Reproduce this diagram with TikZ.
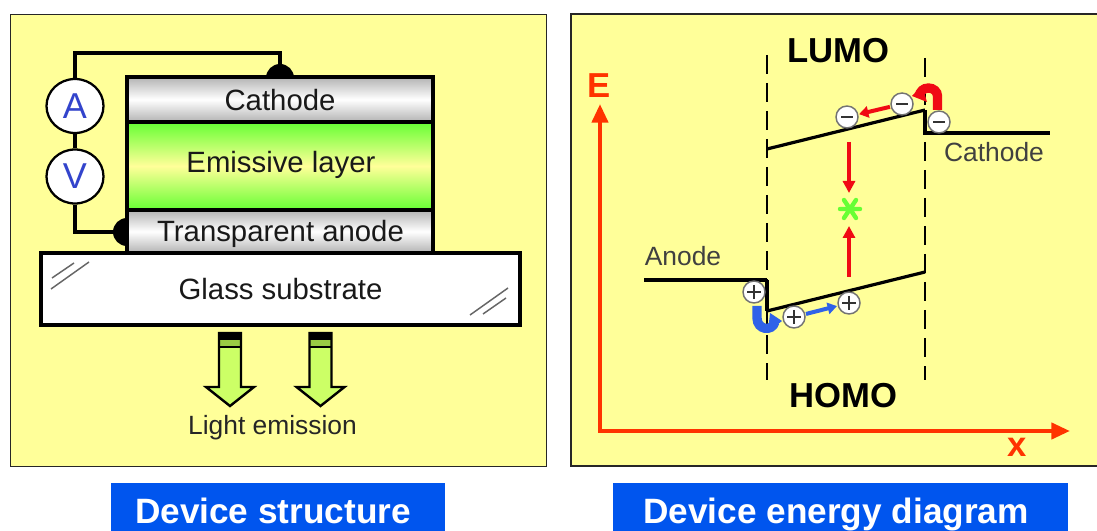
\documentclass[tikz,border=0pt]{standalone}
\usepackage{fontspec}
\setmainfont{Liberation Sans}
\usetikzlibrary{arrows.meta,calc,shapes.geometric}
\definecolor{panel}{HTML}{FFFF99}
\definecolor{orng}{HTML}{FF3300}
\definecolor{rd}{HTML}{F00A14}
\definecolor{blu}{HTML}{2F62E8}
\definecolor{titleblue}{HTML}{0055EE}
\definecolor{lgreen}{HTML}{CCFF66}
\definecolor{dgreen}{HTML}{99CC44}
\definecolor{txtblue}{HTML}{3344CC}
\definecolor{brightgreen}{HTML}{66FF33}
\tikzset{
 panelbox/.style={draw=black!85,line width=1.1pt,fill=panel},
 layerbox/.style={draw=black,line width=2.3pt,minimum width=306*.75pt,inner sep=0pt,outer sep=0pt},
 metalbox/.style={layerbox,top color=black!30,bottom color=black!30,middle color=white},
 greenbox/.style={layerbox,top color=brightgreen,bottom color=brightgreen,middle color=panel},
 lbl/.style={anchor=base,font=\fontsize{22}{24}\selectfont,text=black!90},
 lblsmall/.style={font=\fontsize{19.8}{22}\selectfont,text=black!85},
 titlebox/.style={fill=titleblue,inner sep=0pt,minimum height=48*.75pt},
 titletext/.style={anchor=base,text=white,font=\bfseries\fontsize{26.4}{28}\selectfont,inner sep=0pt},
 meter/.style={ellipse,draw=black,line width=1.7pt,fill=white,minimum width=57*.75pt,minimum height=54*.75pt,inner sep=0pt,text=txtblue,font=\fontsize{27}{30}\selectfont},
 wire/.style={line width=2.3pt,black},
 contact/.style={circle,fill=black,minimum size=28*.75pt,inner sep=0pt},
 glint/.style={black!60,line width=1.1pt},
 dashedrule/.style={black,line width=2pt,dash pattern=on 14pt off 7pt},
 level/.style={black,line width=2.4pt},
 thicklevel/.style={black,line width=3.2pt},
 axis/.style={orng,line width=3.2pt,-{Triangle[length=14pt,width=12pt]}},
 charge/.style={circle,draw=black!55,line width=1.1pt,fill=white,minimum size=22*.75pt,inner sep=0pt},
 bigsym/.style={font=\bfseries\fontsize{26}{28}\selectfont,text=black},
 axsym/.style={font=\bfseries\fontsize{26}{28}\selectfont,text=orng},
 redarrow/.style={rd,line width=2.7pt,-{Triangle[length=9pt,width=9pt]}},
 flowarrow/.style={line width=3pt,shorten <=.5pt,shorten >=.5pt,-{Triangle[length=7pt,width=8.5pt]}},
}
\newcommand{\minussign}[1]{\draw[black!80,line width=1.1pt] ($(#1)+(-6,0)$) -- ($(#1)+(6,0)$);}
\newcommand{\plussign}[1]{\draw[black!80,line width=1.1pt] ($(#1)+(-7,0)$) -- ($(#1)+(7,0)$) ($(#1)+(0,-7)$) -- ($(#1)+(0,7)$);}
\newcommand{\lightarrow}[1]{%
 \fill[lgreen] (#1-11,346) -- (#1+11,346) -- (#1+11,387) -- (#1+24,387) -- (#1,406) -- (#1-24,387) -- (#1-11,387) -- cycle;
 \fill[dgreen] (#1-11,340) rectangle (#1+11,346);
 \draw[black,line width=1.8pt,line join=miter] (#1-11,333) -- (#1-11,387) -- (#1-24,387) -- (#1,406) -- (#1+24,387) -- (#1+11,387) -- (#1+11,333) -- cycle;
 \fill[black] (#1-11,333) rectangle (#1+11,340);
 \draw[black,line width=1.5pt] (#1-11,347) -- (#1+11,347);
}
\begin{document}
\begin{tikzpicture}[x=.75pt,y=-.75pt]
\useasboundingbox (0,0) rectangle (1097,531);
\fill[white] (0,0) rectangle (1097,531);
% panels
\node[panelbox,anchor=north west,minimum width=536*.75pt,minimum height=452*.75pt] (leftpanel) at (10,14) {};
\path[panelbox] (1099,14) -- (571,14) -- (571,466) -- (1099,466);
% contacts and wires
\node[contact] (cc) at (280,78) {};
\node[contact] (ac) at (127,232) {};
\node[meter] (A) at (75,106) {A};
\node[meter] (V) at (75,176.5) {V};
\draw[wire] (A) -- (V);
\draw[wire] (A.north) |- (75,53) -| (cc.center);
\draw[wire] (V.south) |- (ac.center);
% layers
\node[metalbox,anchor=north west,minimum height=45*.75pt] (cathode) at (127,77) {};
\node[greenbox,anchor=north west,minimum height=88*.75pt] (emissive) at (127,122) {};
\node[metalbox,anchor=north west,minimum height=43*.75pt] (anode) at (127,210) {};
\node[layerbox,fill=white,anchor=north west,minimum width=479*.75pt,minimum height=72*.75pt] (glass) at (41,253) {};
\node[lbl] at (280,111) {Cathode};
\node[lbl] at (281,173) {Emissive layer};
\node[lbl] at (280.5,242) {Transparent anode};
\node[lbl] at (280.5,300) {Glass substrate};
\draw[glint] (51,289) -- (89,262) (52,278) -- (74,263);
\draw[glint] (470,315) -- (508,288) (483,314) -- (506,298);
\lightarrow{230}
\lightarrow{320.5}
\node[lblsmall,anchor=base] at (272.5,434) {Light emission};
% titles
\node[titlebox,anchor=north west,minimum width=334*.75pt] (t1) at (111,483) {};
\node[titlebox,anchor=north west,minimum width=455*.75pt] (t2) at (613,483) {};
\node[titletext] at (273,523) {Device structure};
\node[titletext] at (836,523) {Device energy diagram};
% energy diagram
\coordinate (o) at (600,432);
\coordinate (ey) at (600,104);
\coordinate (ox) at (598,431);
\coordinate (ex) at (1070,431);
\draw[axis] (o) -- (ey);
\draw[axis] (ox) -- (ex);
\node[axsym] at (599,86) {E};
\node[axsym] at (1017,447) {x};
\node[bigsym] at (838.5,51) {LUMO};
\node[bigsym] at (843.5,396) {HOMO};
\coordinate (d1t) at (767,55); \coordinate (d1b) at (767,380);
\coordinate (d2t) at (925,58); \coordinate (d2b) at (925,380);
\draw[dashedrule] (d1t) -- (d1b);
\draw[dashedrule] (d2t) -- (d2b);
\coordinate (l1) at (767,149); \coordinate (l2) at (925,110);
\coordinate (h1) at (767,311); \coordinate (h2) at (925,272);
\draw[level] (l1) -- (l2);
\draw[level] (h1) -- (h2);
\coordinate (cl) at (925,133); \coordinate (cr) at (1050,133);
\coordinate (al) at (644,280); \coordinate (ar) at (767,280);
\draw[level] (l2) -- (cl) -- (cr);
\draw[thicklevel] (al) -- (ar);
\draw[black,line width=2.4pt] (ar) -- (767,311);
\node[lblsmall,text=black!75] at (994,152) {Cathode};
\node[lblsmall,text=black!75] at (683,256) {Anode};
% recombination
\coordinate (r1) at (849,142); \coordinate (r2) at (849,193);
\coordinate (r3) at (849,277); \coordinate (r4) at (849,226);
\draw[redarrow] (r1) -- (r2);
\draw[redarrow] (r3) -- (r4);
\coordinate (star) at (850,209);
\draw[brightgreen,line width=3.3pt,line cap=round]
  ($(star)+(-10,0)$) -- ($(star)+(10,0)$)
  ($(star)+(-6,-9)$) -- ($(star)+(6,9)$)
  ($(star)+(6,-9)$) -- ($(star)+(-6,9)$);
% injection arrows
\draw[rd,line width=7pt] (937.5,110) -- (937.5,96) arc (0:-180:9 and 8) -- (919.5,97);
\fill[rd] (912,96) -- (922,85) -- (927,102) -- cycle;
\draw[blu,line width=7pt] (757,306) -- (757,318) .. controls (757,330) and (772,332) .. (775,322);
\fill[blu] (770,313) -- (782,321) -- (768,332) -- cycle;
% charges
\node[charge] (e1) at (847,117) {}; \minussign{e1}
\node[charge] (e2) at (902,104) {}; \minussign{e2}
\node[charge] (e3) at (939,122) {}; \minussign{e3}
\node[charge] (h4) at (754,292) {}; \plussign{h4}
\node[charge] (h5) at (794,317) {}; \plussign{h5}
\node[charge] (h6) at (849,303) {}; \plussign{h6}
\draw[flowarrow,rd] (e2) -- (e1);
\draw[flowarrow,blu] (h5) -- (h6);
\end{tikzpicture}
\end{document}
